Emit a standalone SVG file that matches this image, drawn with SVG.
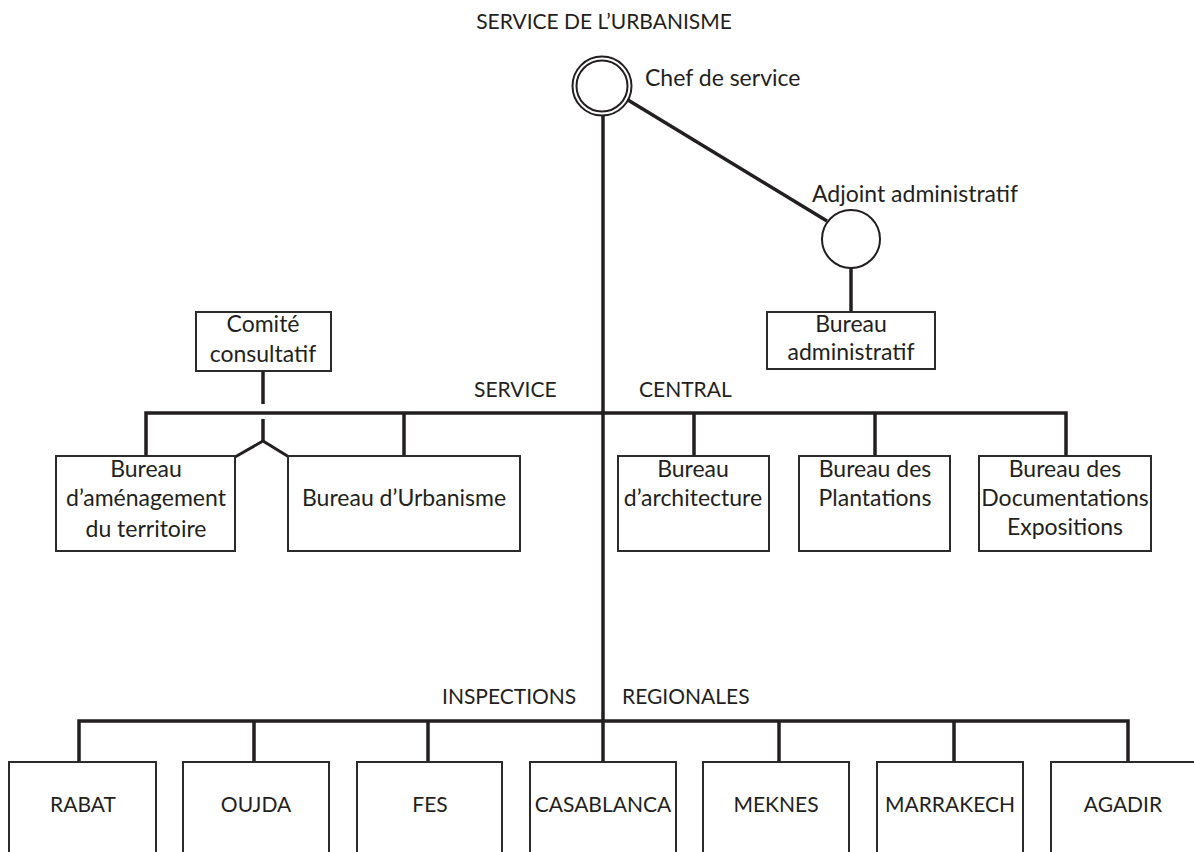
<svg xmlns="http://www.w3.org/2000/svg" width="1194" height="852" viewBox="0 0 1194 852">
  <style>
    text { font-family: Lato, "Open Sans", "Liberation Sans", sans-serif; font-size: 23px; fill: #231f20; }
    .caps { font-size: 21px; }
    .c { text-anchor: middle; }
    .box { fill: #ffffff; stroke: #2b2b2b; stroke-width: 2; }
    .ring { fill: #ffffff; stroke: #231f20; stroke-width: 2; }
    .link { fill: none; stroke: #231f20; stroke-width: 3.5; stroke-linejoin: miter; }
  </style>

  <rect width="1194" height="852" fill="#ffffff"/>

  <!-- connectors -->
  <g id="connectors" class="link">
    <!-- main spine from the head of service down to the regional bus -->
    <line x1="603" y1="115" x2="603" y2="762"/>
    <!-- link to the deputy -->
    <line x1="628" y1="100" x2="827" y2="221"/>
    <line x1="851" y1="268" x2="851" y2="312"/>
    <!-- central service bus -->
    <polyline points="146,456 146,413 1066,413 1066,456"/>
    <line x1="404" y1="413" x2="404" y2="456"/>
    <line x1="694" y1="413" x2="694" y2="456"/>
    <line x1="875" y1="413" x2="875" y2="456"/>
    <!-- advisory committee, crossing the bus without joining it -->
    <line x1="263" y1="371" x2="263" y2="404"/>
    <line x1="263" y1="419" x2="263" y2="441"/>
    <polyline points="235,457 263,441 289,457" stroke-width="3"/>
    <!-- regional inspections bus -->
    <polyline points="79,762 79,721 1128,721 1128,762"/>
    <line x1="254" y1="721" x2="254" y2="762"/>
    <line x1="428" y1="721" x2="428" y2="762"/>
    <line x1="779" y1="721" x2="779" y2="762"/>
    <line x1="954" y1="721" x2="954" y2="762"/>
  </g>

  <!-- headings -->
  <g id="headings">
    <text class="c caps" x="604" y="29">SERVICE DE L’URBANISME</text>
    <text class="caps" x="474" y="397">SERVICE</text>
    <text class="caps" x="639" y="397">CENTRAL</text>
    <text class="caps" x="442" y="704">INSPECTIONS</text>
    <text class="caps" x="622" y="704">REGIONALES</text>
  </g>

  <g id="chef">
    <circle class="ring" cx="602" cy="86" r="29.5"/>
    <circle class="ring" cx="602" cy="86" r="25.5"/>
    <text x="645" y="86">Chef de service</text>
  </g>

  <g id="adjoint">
    <circle class="ring" cx="851" cy="239" r="29"/>
    <text x="812" y="202">Adjoint administratif</text>
  </g>

  <g id="bureau-administratif">
    <rect class="box" x="767" y="312" width="168" height="57"/>
    <text class="c" x="851" y="332">Bureau</text>
    <text class="c" x="851" y="360">administratif</text>
  </g>

  <g id="comite">
    <rect class="box" x="196" y="312" width="135" height="59"/>
    <text class="c" x="263" y="332">Comité</text>
    <text class="c" x="263" y="362">consultatif</text>
  </g>

  <g id="bureau-amenagement">
    <rect class="box" x="56" y="456" width="179" height="95"/>
    <text class="c" x="146" y="477">Bureau</text>
    <text class="c" x="146" y="506">d’aménagement</text>
    <text class="c" x="146" y="537">du territoire</text>
  </g>

  <g id="bureau-urbanisme">
    <rect class="box" x="288" y="456" width="232" height="95"/>
    <text class="c" x="404" y="506">Bureau d’Urbanisme</text>
  </g>

  <g id="bureau-architecture">
    <rect class="box" x="618" y="456" width="151" height="95"/>
    <text class="c" x="693" y="477">Bureau</text>
    <text class="c" x="693" y="506">d’architecture</text>
  </g>

  <g id="bureau-plantations">
    <rect class="box" x="799" y="456" width="151" height="95"/>
    <text class="c" x="875" y="477">Bureau des</text>
    <text class="c" x="875" y="506">Plantations</text>
  </g>

  <g id="bureau-documentations">
    <rect class="box" x="979" y="456" width="172" height="95"/>
    <text class="c" x="1065" y="477">Bureau des</text>
    <text class="c" x="1065" y="506">Documentations</text>
    <text class="c" x="1065" y="535">Expositions</text>
  </g>

  <!-- regional inspections, boxes run off the bottom edge -->
  <g id="rabat">
    <rect class="box" x="9" y="762" width="147" height="110"/>
    <text class="c caps" x="83" y="812">RABAT</text>
  </g>
  <g id="oujda">
    <rect class="box" x="183" y="762" width="146" height="110"/>
    <text class="c caps" x="256" y="812">OUJDA</text>
  </g>
  <g id="fes">
    <rect class="box" x="357" y="762" width="145" height="110"/>
    <text class="c caps" x="430" y="812">FES</text>
  </g>
  <g id="casablanca">
    <rect class="box" x="530" y="762" width="146" height="110"/>
    <text class="c caps" x="603" y="812">CASABLANCA</text>
  </g>
  <g id="meknes">
    <rect class="box" x="703" y="762" width="146" height="110"/>
    <text class="c caps" x="776" y="812">MEKNES</text>
  </g>
  <g id="marrakech">
    <rect class="box" x="877" y="762" width="146" height="110"/>
    <text class="c caps" x="950" y="812">MARRAKECH</text>
  </g>
  <g id="agadir">
    <rect class="box" x="1051" y="762" width="146" height="110"/>
    <text class="c caps" x="1123" y="812">AGADIR</text>
  </g>
</svg>
